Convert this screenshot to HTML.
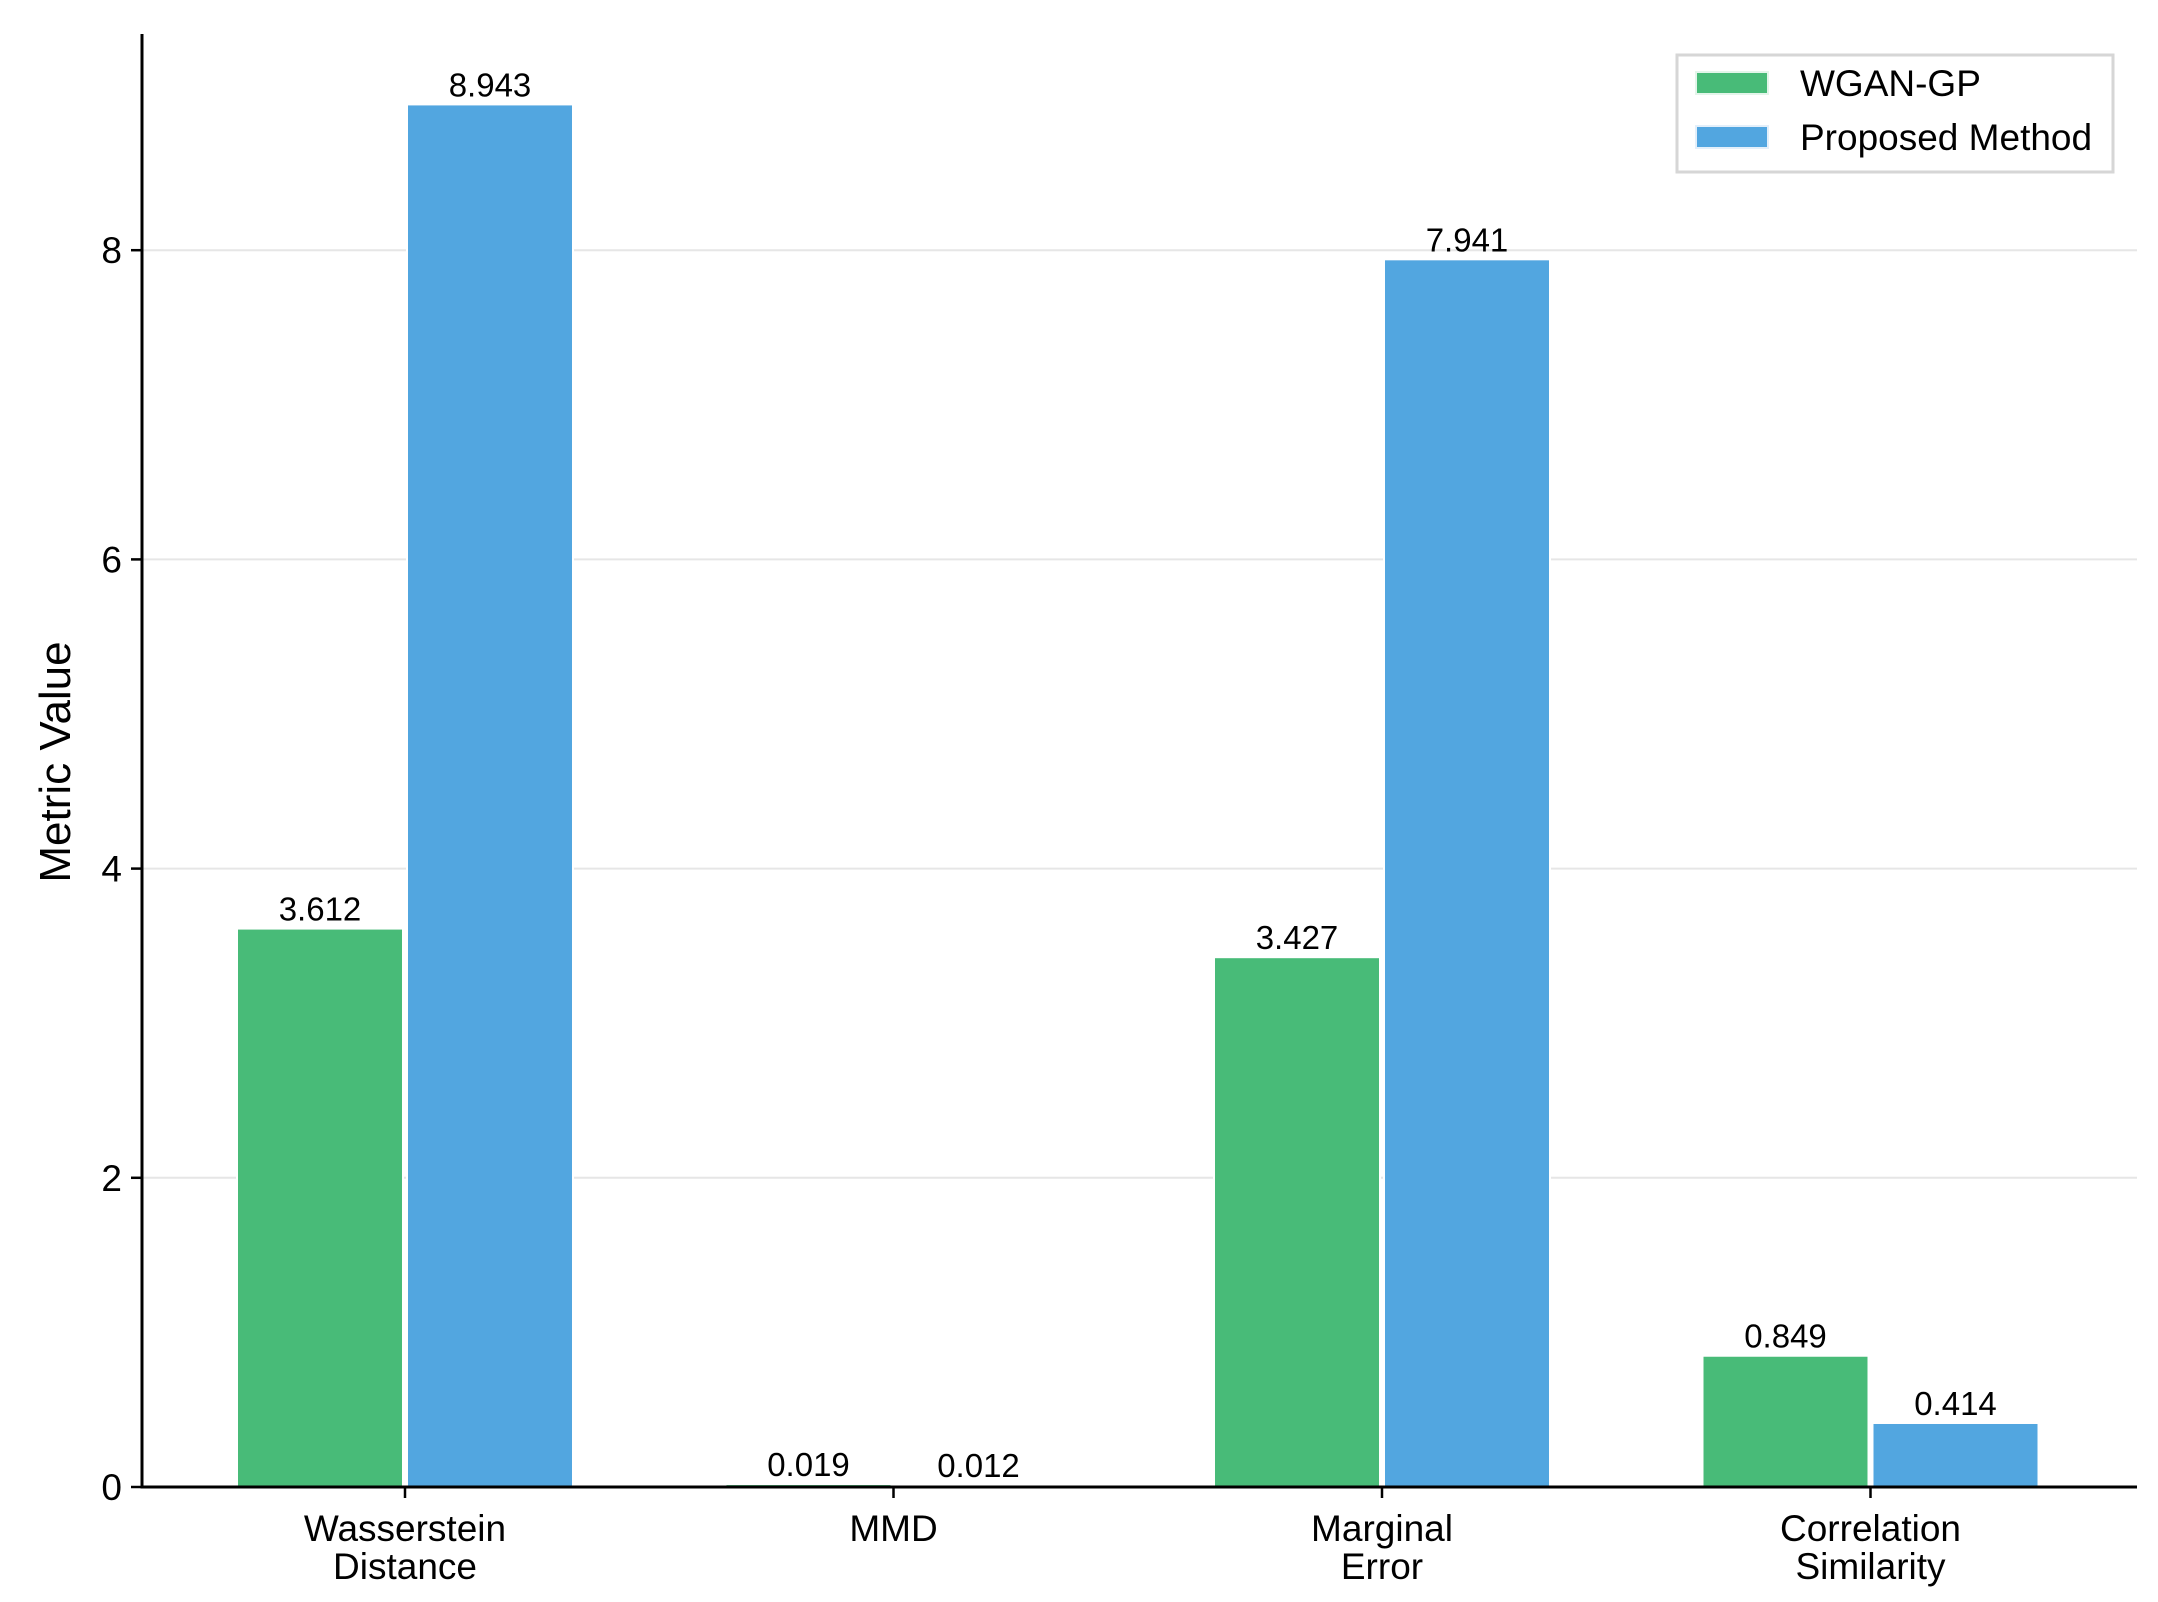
<!DOCTYPE html>
<html><head><meta charset="utf-8"><style>
html,body{margin:0;padding:0;background:#fff;}
svg{display:block;font-family:"Liberation Sans",Arial,sans-serif;}
</style></head><body>
<svg id="chart" width="2158" height="1602" viewBox="0 0 2158 1602">
<g id="grid"></g><g id="bars"></g><g id="labels"></g><g id="axes"></g>
</svg>
<script>
const categories = [["Wasserstein","Distance"],["MMD"],["Marginal","Error"],["Correlation","Similarity"]];
const seriesNames = ["WGAN-GP","Proposed Method"];
const wganValues = [3.612, 0.019, 3.427, 0.849];
const proposedValues = [8.943, 0.012, 7.941, 0.414];
const yTicks = [0,2,4,6,8];
const colors = ["#48bb78","#52a6e0"];

const NS="http://www.w3.org/2000/svg";
const x0=142, x1=2137, yBase=1487, yTop=34, unit=154.6;
const yScale=v=>yBase-v*unit;
const xScale=i=>405+i*488.5;
const barW=166;
function mk(tag,attrs,parent,text){const e=document.createElementNS(NS,tag);for(const k in attrs)e.setAttribute(k,attrs[k]);if(text!==undefined)e.textContent=text;parent.appendChild(e);return e;}
const grid=document.getElementById('grid'),bars=document.getElementById('bars'),labels=document.getElementById('labels'),axes=document.getElementById('axes');
yTicks.forEach(t=>{
  if(t>0){const g=mk('line',{x1:x0,x2:x1,y1:yScale(t),y2:yScale(t),stroke:'#e6e6e6','stroke-width':2},grid);
  
  }
  const tk=mk('line',{x1:131,x2:x0,y1:yScale(t),y2:yScale(t),stroke:'#000','stroke-width':2.5},axes);
  
  
  const tl=mk('text',{x:122,y:yScale(t)+13,'text-anchor':'end','font-size':37},axes,String(t));
  
  
});
[wganValues,proposedValues].forEach((vals,s)=>{
  vals.forEach((v,i)=>{
    const cx=xScale(i)+(s===0?-barW/2-2:barW/2+2);
    const r=mk('rect',{x:cx-barW/2,y:yScale(v),width:barW,height:yBase-yScale(v),fill:colors[s],stroke:'#fff','stroke-width':2},bars);
    
    
    const t=mk('text',{x:cx,y:yScale(v)-8,'text-anchor':'middle','font-size':33},labels,v.toFixed(3));
    
    
  });
});
categories.forEach((c,i)=>{
  const tk=mk('line',{x1:xScale(i),x2:xScale(i),y1:yBase,y2:yBase+11,stroke:'#000','stroke-width':2.5},axes);
  
  
  c.forEach((line,j)=>{
    const t=mk('text',{x:xScale(i),y:1541+j*38,'text-anchor':'middle','font-size':37},axes,line);
    
    
  });
});
const ya=mk('line',{x1:x0,x2:x0,y1:yTop,y2:yBase+1.5,stroke:'#000','stroke-width':3},axes);


const xa=mk('line',{x1:x0-1.5,x2:x1,y1:yBase,y2:yBase,stroke:'#000','stroke-width':3},axes);


const yt=mk('text',{x:0,y:0,transform:'translate(70,762) rotate(-90)','text-anchor':'middle','font-size':44},axes,'Metric Value');


const lg=mk('g',{},axes);


const lb=mk('rect',{x:1677,y:55,width:436,height:117,fill:'#fff',stroke:'#d6d6d6','stroke-width':3},lg);


seriesNames.forEach((n,s)=>{
  const p=mk('rect',{x:1696,y:72+s*54,width:72,height:22,fill:colors[s],stroke:s===0?'#e3f5ea':'#e3effa','stroke-width':2},lg);
  
  
  const t=mk('text',{x:1800,y:96+s*54,'font-size':37},lg,n);
  
  
});
</script>
</body></html>
